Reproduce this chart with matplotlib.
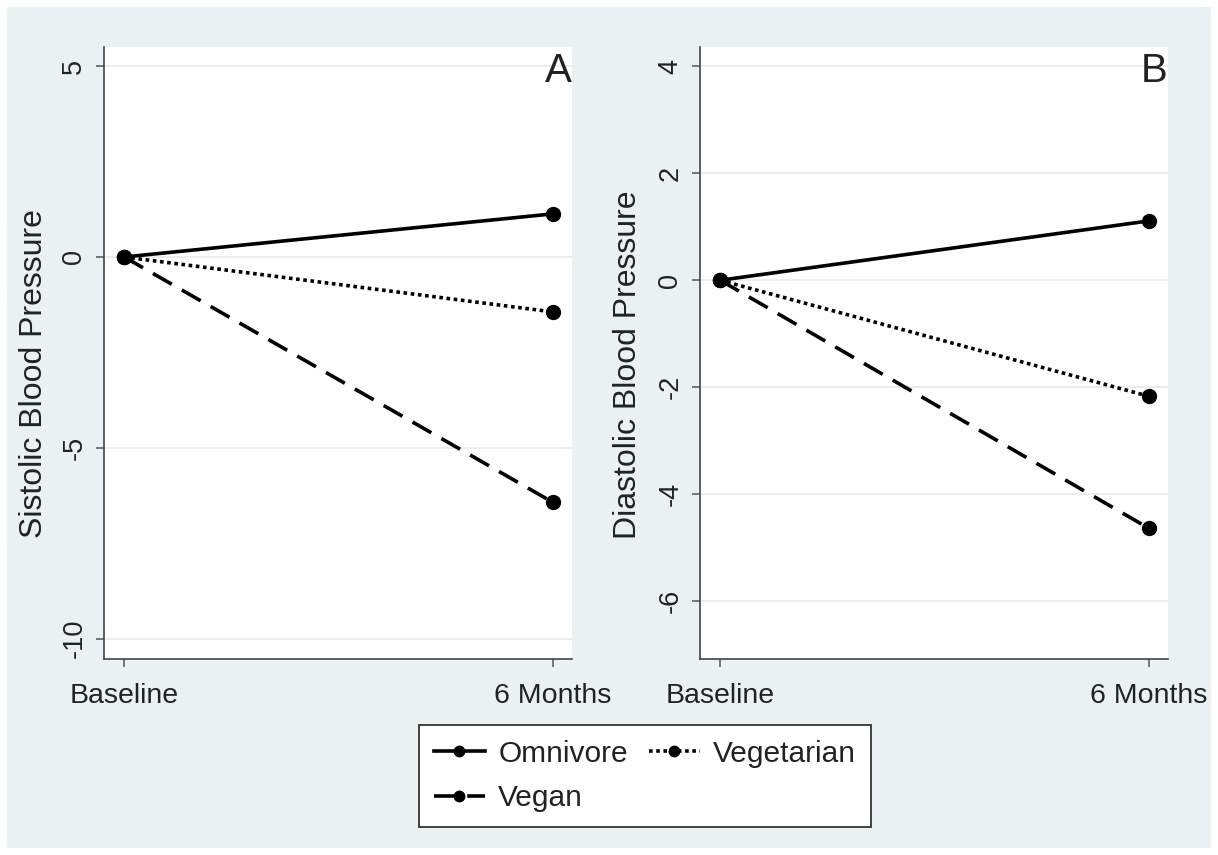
import matplotlib
matplotlib.use('Agg')
import matplotlib.pyplot as plt
from matplotlib.patches import Rectangle

plt.rcParams['font.family'] = ['Liberation Sans', 'DejaVu Sans']

# Data
timepoints = ['Baseline', '6 Months']
groups = ['Omnivore', 'Vegetarian', 'Vegan']
systolic = {'Omnivore': [0, 1.13], 'Vegetarian': [0, -1.44], 'Vegan': [0, -6.43]}
diastolic = {'Omnivore': [0, 1.11], 'Vegetarian': [0, -2.17], 'Vegan': [0, -4.64]}
sys_ticks = [-10, -5, 0, 5]
dia_ticks = [-6, -4, -2, 0, 2, 4]

styles = {
    'Omnivore': dict(linestyle='-'),
    'Vegetarian': dict(linestyle=(0, (1, 1.0))),
    'Vegan': dict(linestyle=(0, (6, 3.2))),
}

bg = '#eaf1f3'
fig = plt.figure(figsize=(12.18, 8.55), dpi=100, facecolor='white')
fig.patches.append(Rectangle((7 / 1218, 7 / 855), 1204 / 1218, 841 / 855,
                             transform=fig.transFigure, facecolor=bg,
                             edgecolor='none', zorder=-10))

axA = fig.add_axes([104 / 1218, 1 - 659 / 855, 468 / 1218, 612 / 855])
axB = fig.add_axes([700 / 1218, 1 - 659 / 855, 468 / 1218, 612 / 855])


def draw(ax, data, ticks, ylim, ylabel, letter, lab_xy):
    x = range(len(timepoints))
    for g in groups:
        ax.plot(x, data[g], color='black', lw=2.6, marker='o', markersize=10,
                label=g, zorder=3, **styles[g])
    ax.set_xlim(-0.047, 1.044)
    ax.set_ylim(*ylim)
    ax.set_xticks(list(x))
    ax.set_xticklabels(timepoints, fontsize=20.5, color='#222222')
    ax.set_yticks(ticks)
    ax.set_yticklabels([str(t) for t in ticks], rotation=90, va='center',
                       fontsize=19.5, color='#222222')
    ax.grid(axis='y', color='#e6ecee', lw=1.3)
    ax.set_axisbelow(True)
    for s in ['top', 'right']:
        ax.spines[s].set_visible(False)
    for s in ['left', 'bottom']:
        ax.spines[s].set_color('#444444')
        ax.spines[s].set_linewidth(1.2)
    ax.tick_params(axis='both', length=6, width=1.1, color='#555555')
    ax.tick_params(axis='y', pad=6)
    ax.tick_params(axis='x', pad=11)
    ax.set_ylabel(ylabel, fontsize=23, color='#222222')
    ax.yaxis.set_label_coords(*lab_xy)
    ax.text(1.0, 0.961, letter, transform=ax.transAxes, ha='right',
            va='center', fontsize=29, color='#222222')


draw(axA, systolic, sys_ticks, (-10.53, 5.5), 'Sistolic Blood Pressure', 'A',
     (-0.118, 0.467))
draw(axB, diastolic, dia_ticks, (-7.08, 4.36), 'Diastolic Blood Pressure', 'B',
     (-0.122, 0.48))

handles, labels = axA.get_legend_handles_labels()
order = [0, 2, 1]  # fill rows as Omnivore, Vegetarian / Vegan
leg = fig.legend([handles[i] for i in order], [labels[i] for i in order],
                 loc='center', bbox_to_anchor=(0.5296, 0.0924),
                 ncol=2, fontsize=21.5, frameon=True, fancybox=False,
                 facecolor='white', framealpha=1, edgecolor='#333333',
                 handlelength=1.7, handletextpad=0.45, columnspacing=0.7,
                 labelspacing=0.55, borderpad=0.5, borderaxespad=0,
                 markerscale=0.75)
leg.get_frame().set_linewidth(1.3)
for t in leg.get_texts():
    t.set_color('#222222')

fig.savefig('out.png', dpi=100, facecolor=fig.get_facecolor())
